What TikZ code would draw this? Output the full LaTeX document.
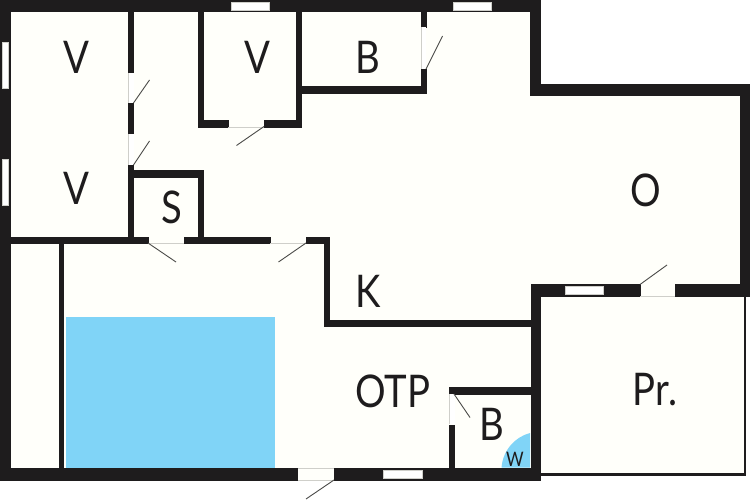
\documentclass[tikz,border=0pt]{standalone}
\usepackage{fontspec}
\setmainfont{Lato}[FakeStretch=0.85]
\definecolor{floorcream}{HTML}{FFFFFA}
\definecolor{wallblack}{HTML}{1E1C1D}
\definecolor{poolblue}{HTML}{80D4F7}
\definecolor{leafgray}{HTML}{4A4A48}
\definecolor{sillgray}{HTML}{CFCFCA}
\tikzset{
	wall/.style={fill=wallblack, draw=wallblack, line width=0.5pt},
	opening/.style={fill=floorcream, draw=none},
	glazing/.style={fill=white, draw=sillgray, line width=0.4pt},
	leaf/.style={draw=leafgray, line width=0.9pt},
	sill/.style={draw=sillgray, line width=0.6pt},
	roomlabel/.style={inner sep=0pt, text=wallblack, font=\fontsize{45}{45}\selectfont},
}
\begin{document}
\begin{tikzpicture}[x=1pt, y=-1pt]
	%%%%% START %%%%%
	\useasboundingbox (0, 0) rectangle (750, 500);
	
	% floor
	\fill[floorcream] (5, 5) rectangle (535, 475);
	\fill[floorcream] (535, 90) rectangle (745, 475);
	
	% pool and shower
	\fill[poolblue] (66, 316.5) rectangle (275, 468);
	\fill[poolblue] (530, 467.5) -- (501.5, 467.5) .. controls (503, 450) and (515, 437) .. (530, 433) -- cycle;
	
	% outer walls
	\draw[wall] (0.25, 0.25) rectangle (539.75, 11.75);
	\draw[wall] (0.25, 0.25) rectangle (9.75, 479.75);
	\draw[wall] (0.25, 468.25) rectangle (298, 479.75);
	\draw[wall] (334, 468.25) rectangle (539.75, 479.75);
	\draw[wall] (530.25, 0.25) rectangle (539.75, 95.75);
	\draw[wall] (530.25, 84.25) rectangle (749.75, 95.75);
	\draw[wall] (740.25, 84.25) rectangle (749.75, 296.25);
	\draw[wall] (531.25, 284.25) rectangle (640, 296.25);
	\draw[wall] (675, 284.25) rectangle (749.75, 296.25);
	\draw[wall] (531.25, 284.25) rectangle (539.75, 479.75);
	\draw[wall] (744.5, 296) rectangle (745.5, 475);
	\draw[wall] (540, 473.5) rectangle (745.5, 475);
	
	% walls of the left rooms
	\draw[wall] (128.5, 12) rectangle (133.5, 73);
	\draw[wall] (128.5, 103) rectangle (133.5, 134);
	\draw[wall] (128.5, 165) rectangle (133.5, 243);
	\draw[wall] (128.5, 170.5) rectangle (203, 177);
	\draw[wall] (198, 170.5) rectangle (203, 243);
	\draw[wall] (10, 237) rectangle (148, 243);
	\draw[wall] (184, 237) rectangle (270, 243);
	\draw[wall] (306, 237) rectangle (329, 243);
	\draw[wall] (59.5, 243) rectangle (63.5, 468);
	
	% walls of the upper rooms
	\draw[wall] (198, 12) rectangle (203, 127);
	\draw[wall] (198, 120.5) rectangle (228, 127);
	\draw[wall] (264, 120.5) rectangle (301, 127);
	\draw[wall] (296, 12) rectangle (301, 127);
	\draw[wall] (296, 86.5) rectangle (426, 93);
	\draw[wall] (421, 12) rectangle (426, 27);
	\draw[wall] (421, 69) rectangle (426, 93);
	
	% walls of the kitchen and bath
	\draw[wall] (324, 237) rectangle (329, 326.5);
	\draw[wall] (324, 320.5) rectangle (531, 326.5);
	\draw[wall] (449, 387.5) rectangle (531, 394);
	\draw[wall] (449, 425) rectangle (454.5, 468);
	
	% windows
	\draw[glazing] (231, 2.5) rectangle (269, 10);
	\draw[glazing] (453.5, 2.5) rectangle (491.5, 10);
	\draw[glazing] (2.5, 42) rectangle (8, 88);
	\draw[glazing] (2.5, 159.5) rectangle (8, 205);
	\draw[glazing] (383.5, 470.5) rectangle (422, 478);
	\draw[glazing] (565, 286.5) rectangle (603, 294);
	
	% openings
	\fill[opening] (298, 468) rectangle (334, 480);
	\fill[white] (128.5, 73) rectangle (133.5, 103);
	\fill[white] (128.5, 134) rectangle (133.5, 165);
	\fill[white] (421, 27) rectangle (426, 69);
	\fill[white] (449, 394) rectangle (454.5, 424);
	
	% sills
	\draw[sill] (148, 243.5) -- (184, 243.5);
	\draw[sill] (270, 243.5) -- (306, 243.5);
	\draw[sill] (228, 127) -- (264, 127);
	\draw[sill] (640, 296.5) -- (675, 296.5);
	\draw[sill] (298, 480) -- (334, 480);
	\draw[sill] (298, 468) -- (334, 468);
	\draw[sill] (128.5, 73) -- (128.5, 103);
	\draw[sill] (128.5, 134) -- (128.5, 165);
	\draw[sill] (421, 27) -- (421, 69);
	\draw[sill] (449, 394) -- (449, 424);
	
	% door leaves
	\draw[leaf] (133.5, 103) -- (149.5, 80);
	\draw[leaf] (133.5, 165) -- (149.5, 141);
	\draw[leaf] (264, 126.5) -- (236.5, 145.5);
	\draw[leaf] (426, 69) -- (442.5, 36);
	\draw[leaf] (148, 243) -- (176, 262);
	\draw[leaf] (306, 243) -- (278.5, 262);
	\draw[leaf] (454, 394) -- (470, 417.5);
	\draw[leaf] (334, 480) -- (306, 499);
	\draw[leaf] (640, 284.5) -- (667, 265);
	
	% room names
	\node[roomlabel] (roomA) at (76, 57) {V};
	\node[roomlabel] (roomB) at (257, 57) {V};
	\node[roomlabel] (roomC) at (76, 188.5) {V};
	\node[roomlabel] (closet) at (172, 207) {S};
	\node[roomlabel] (bathA) at (368, 57) {B};
	\node[roomlabel] (living) at (646, 190) {O};
	\node[roomlabel] (kitchen) at (368, 291) {K};
	\node[roomlabel] (hall) at (393, 391) {OTP};
	\node[roomlabel] (bathB) at (492, 424) {B};
	\node[roomlabel] (porch) at (655, 390) {Pr.};
	\node[roomlabel, font=\fontsize{20}{20}\selectfont] (heater) at (515, 459) {W};
	%%%%% END %%%%%
\end{tikzpicture}
\end{document}
